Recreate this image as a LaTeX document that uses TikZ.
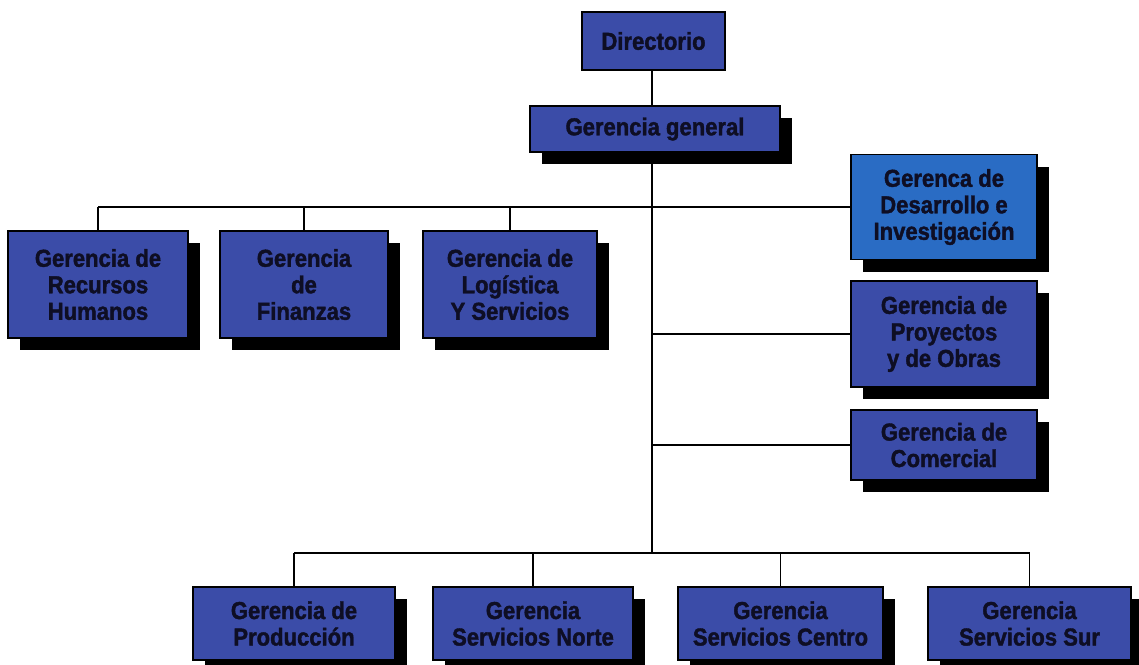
\documentclass[tikz,border=0pt]{standalone}
\usepackage{fontspec}
\setmainfont{Liberation Sans}[FakeStretch=0.9,BoldFeatures={FakeBold=1.6}]
\usetikzlibrary{shadows}
\definecolor{boxblue}{RGB}{59,76,168}
\definecolor{lightblue}{RGB}{42,108,196}
\definecolor{inkdark}{RGB}{14,14,36}
\begin{document}
\begin{tikzpicture}[x=1pt,y=-1pt,
  unit/.style={draw=black,line width=1.2pt,fill=boxblue,text=inkdark,
    font=\fontsize{24.5}{26.5}\selectfont\bfseries,align=center,inner sep=0pt},
  shadowed/.style={drop shadow={shadow xshift=12pt,shadow yshift=-12pt,opacity=1,fill=black}},
  link/.style={draw=black,line width=1.5pt}]
\useasboundingbox (0,0) rectangle (1139,664);
\fill[white] (0,0) rectangle (1139,664);

% top levels
\node[unit,minimum width=143pt,minimum height=58pt] (dir) at (653.5,41) {Directorio};
\node[unit,shadowed,minimum width=250pt,minimum height=46pt] (gg) at (655,129) {Gerencia general};

% staff units on the right
\node[unit,shadowed,fill=lightblue,minimum width=186pt,minimum height=105pt] (des) at (944,207) {Gerenca de\\Desarrollo e\\Investigación};
\node[unit,shadowed,minimum width=186pt,minimum height=106pt] (pro) at (944,334) {Gerencia de\\Proyectos\\y de Obras};
\node[unit,shadowed,minimum width=186pt,minimum height=70pt] (com) at (944,445) {Gerencia de\\Comercial};

% support units
\node[unit,shadowed,minimum width=180pt,minimum height=107pt] (rh) at (98,284.5) {Gerencia de\\Recursos\\Humanos};
\node[unit,shadowed,minimum width=168pt,minimum height=107pt] (fin) at (304,284.5) {Gerencia\\de\\Finanzas};
\node[unit,shadowed,minimum width=174pt,minimum height=107pt] (log) at (510,284.5) {Gerencia de\\Logística\\Y Servicios};

% operating units
\node[unit,shadowed,minimum width=202pt,minimum height=73pt] (prod) at (294,623.5) {Gerencia de\\Producción};
\node[unit,shadowed,minimum width=200pt,minimum height=73pt] (nor) at (533,623.5) {Gerencia\\Servicios Norte};
\node[unit,shadowed,minimum width=205pt,minimum height=73pt] (cen) at (780.5,623.5) {Gerencia\\Servicios Centro};
\node[unit,shadowed,minimum width=203pt,minimum height=73pt] (sur) at (1029.5,623.5) {Gerencia\\Servicios Sur};

% connectors
\coordinate (trunk) at (652,553);
\coordinate (upbus) at (652,207);
\path[link] (dir.south -| trunk) -- (gg.north -| trunk);
\path[link] (gg.south -| trunk) -- (trunk);
\path[link] (rh.north |- upbus) -- (des.west);
\path[link] (rh.north) -- (rh.north |- upbus);
\path[link] (fin.north) -- (fin.north |- upbus);
\path[link] (log.north) -- (log.north |- upbus);
\path[link] (pro.west) -- (pro.west -| trunk);
\path[link] (com.west) -- (com.west -| trunk);
\path[link] (prod.north |- trunk) -- (sur.north |- trunk);
\path[link] (prod.north) -- (prod.north |- trunk);
\path[link] (nor.north) -- (nor.north |- trunk);
\path[link] (cen.north) -- (cen.north |- trunk);
\path[link] (sur.north) -- (sur.north |- trunk);
\end{tikzpicture}
\end{document}
